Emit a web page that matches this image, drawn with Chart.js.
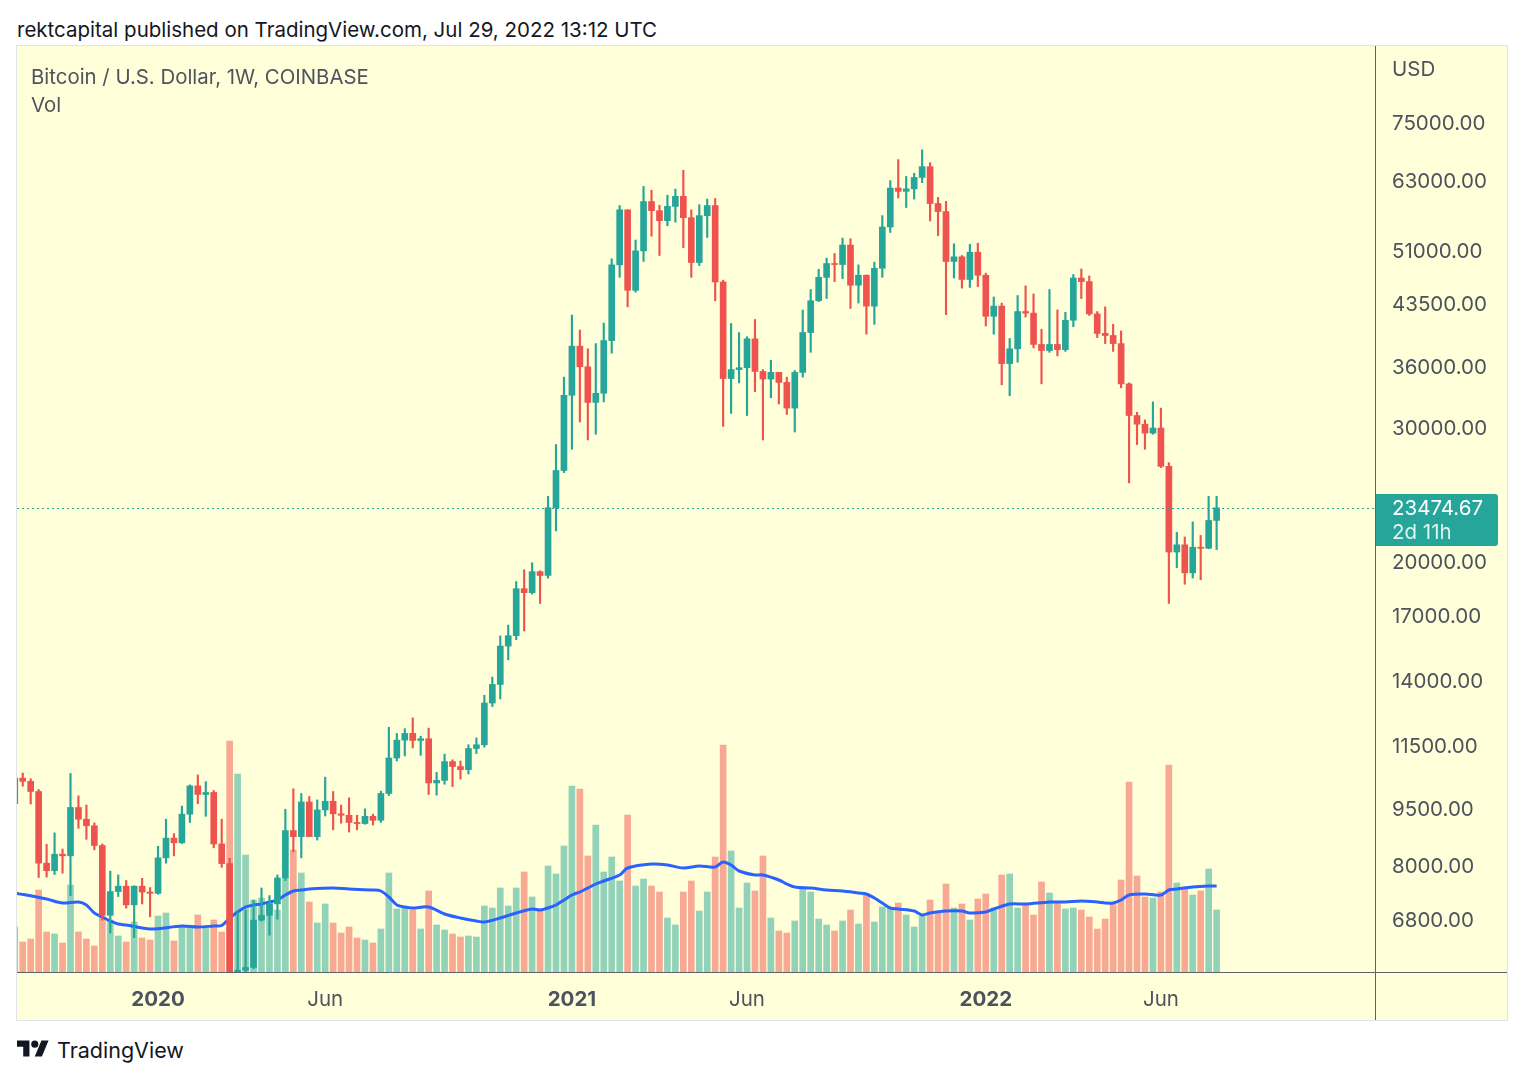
<!DOCTYPE html>
<html>
<head>
<meta charset="utf-8">
<script src="https://cdn.jsdelivr.net/npm/chart.js@4.4.0/dist/chart.umd.min.js"></script>
<style>
body { margin:0; background:#fff; font-family: Inter, "Liberation Sans", sans-serif; }
#page { position:relative; width:1524px; height:1080px; overflow:hidden; }
#title { position:absolute; left:17px; top:18px; font-size:20.5px; line-height:24px; color:#131722; white-space:nowrap; }
#panel { position:absolute; left:16px; top:45px; width:1490px; height:974px; border:1px solid #e0e3eb; background:#ffffd9; }
#panel canvas { position:absolute; left:0; top:0; }
.legend { position:absolute; left:14px; font-size:20.4px; line-height:24px; color:#50535e; white-space:nowrap; }
#logo { position:absolute; left:17px; top:1037px; }
#logotext { position:absolute; left:57px; top:1036px; font-size:21.5px; line-height:28px; color:#131722; }
</style>
</head>
<body>
<div id="page">
  <div id="title">rektcapital published on TradingView.com, Jul 29, 2022 13:12 UTC</div>
  <div id="panel">
    <canvas id="chart" width="1490" height="974"></canvas>
    <div class="legend" style="top:19px">Bitcoin / U.S. Dollar, 1W, COINBASE</div>
    <div class="legend" style="top:47px">Vol</div>
  </div>
  <svg id="logo" width="32" height="25" viewBox="0 0 36 28"><path d="M14 22H7V11H0V4h14v18zM28 22h-8l7.5-18h8L28 22z" fill="#131722"/><circle cx="20" cy="8" r="4" fill="#131722"/></svg>
  <div id="logotext">TradingView</div>
</div>
<script>
// weekly candles, first week = 2019-09-02, last week = 2022-07-25
var open = [9630,10400,10300,9990,8050,7870,8270,8230,9520,9190,
  9010,8490,6880,7390,7510,7100,7510,7380,7350,8180,
  8680,8560,9330,10160,9900,9960,8530,8040,5360,5830,
  5880,6780,6880,7120,7700,8880,8720,9680,8720,9450,
  9700,9340,9300,9100,9070,9270,9160,9930,11050,11660,
  11900,11650,11710,10250,10330,10930,10770,10670,11370,11500,
  13040,13790,15480,15970,18400,18180,19370,19150,23480,26270,
  32950,38200,35900,32250,33150,38850,48800,57600,45200,50900,
  59050,57450,55750,58200,60000,56250,49150,56600,58350,46350,
  34650,35600,35800,39050,35400,34600,35300,34250,31700,35300,
  39800,43800,47000,49000,48850,51800,45900,47300,43100,48300,
  54700,61500,60900,61350,63500,65600,58700,57300,49300,50000,
  46700,50700,47300,41800,43100,36250,37900,42400,42200,38400,
  37700,38400,37800,41300,46900,46400,42100,39700,39450,38500,
  34100,31000,30200,29400,29850,26600,20550,21000,19300,20850,
  20780,22600];
var high = [10950,10560,10380,10050,8520,8820,8400,10550,9860,9590,
  9090,8530,7860,7770,7640,7520,7690,7480,8470,9190,
  8800,9560,10190,10500,10290,10020,9190,8170,6950,6990,
  7200,7470,7300,7770,9470,10070,9930,9840,9740,10430,
  9990,9590,9800,9300,9480,9330,10000,12120,11900,12070,
  12470,11800,12090,10580,11180,10990,10950,11500,11740,13350,
  14100,15960,16490,18800,19480,19900,19420,24300,28400,34800,
  41950,40100,37900,38500,40950,49700,58350,57600,52600,61800,
  61100,58400,60200,61300,64900,57600,58500,59500,59600,46600,
  40900,39800,39300,41400,35600,36600,35300,34800,35500,42600,
  45300,48150,49800,50500,52900,52800,48800,47350,49200,56600,
  62900,67000,63700,64300,69000,66400,59800,59100,52000,50200,
  51900,52100,47600,44300,43500,39100,44500,45800,44700,40200,
  45300,42600,42300,47400,48200,47200,42400,43000,40800,40000,
  34200,31300,30600,32300,31700,26900,21800,21500,22500,21600,
  24300,24300];
var low = [9580,10150,9620,7710,7720,7780,7810,7300,8940,8650,
  8380,6780,6520,7280,7030,6430,7120,6850,7330,8050,
  8230,8540,9100,9630,9270,8430,7950,3850,4450,5700,
  5860,6760,6480,6800,7640,8330,8180,8810,8630,9280,
  8900,9080,8840,8900,9050,9030,9100,9870,10950,11120,
  11390,11140,9900,9880,10210,10140,10370,10530,11200,11420,
  12900,13200,14850,15780,16200,18100,17600,19000,21900,26100,
  28000,30400,28800,29300,32300,37400,47000,43000,44950,49300,
  53200,50200,54900,55500,51400,47000,48700,53000,43800,30000,
  31200,34200,31000,33300,28800,32700,32100,31100,29500,34800,
  37500,43700,44100,46400,46800,42800,43500,39600,40800,47000,
  53800,59700,58000,59500,62500,55700,53300,42000,46900,45500,
  45600,45700,40600,39600,34000,32900,36400,41700,38000,34100,
  37500,37100,37600,40500,44100,41900,39200,38500,37600,33700,
  25300,28400,28000,29300,26500,17600,19600,18650,19000,18900,
  20750,20700];
var close = [10400,10300,9990,8050,7870,8270,8230,9520,9190,9010,
  8490,6880,7390,7510,7100,7510,7380,7350,8180,8680,
  8560,9330,10160,9900,9960,8530,8040,5360,5830,5880,
  6780,6880,7120,7700,8880,8720,9680,8720,9450,9700,
  9340,9300,9100,9070,9270,9160,9930,11050,11660,11900,
  11650,11710,10250,10330,10930,10770,10670,11370,11500,13040,
  13790,15480,15970,18400,18180,19370,19150,23480,26270,32950,
  38200,35900,32250,33150,38850,48800,57600,45200,50900,59050,
  57450,55750,58200,60000,56250,49150,56600,58350,46350,34650,
  35600,35800,39050,35400,34600,35300,34250,31700,35300,39800,
  43800,47000,49000,48850,51800,45900,47300,43100,48300,54700,
  61500,60900,61350,63500,65600,58700,57300,49300,50000,46700,
  50700,47300,41800,43100,36250,37900,42400,42200,38400,37700,
  38400,37800,41300,46900,46400,42100,39700,39450,38500,34100,
  31000,30200,29400,29850,26600,20550,21000,19300,20850,20780,
  22600,23474.67];
// volume, thousand BTC
var volume = [45,30,33,82,40,38,29,87,40,33,
  26,55,52,36,30,50,34,32,56,59,
  31,45,45,57,44,52,40,231,198,117,
  72,74,70,62,95,122,99,70,49,68,
  49,39,45,34,32,29,43,99,63,65,
  62,43,81,47,42,38,35,36,35,66,
  64,84,66,84,100,75,62,106,98,126,
  186,183,116,147,100,115,91,157,86,93,
  86,80,54,47,80,91,61,80,115,227,
  121,64,89,81,116,54,41,39,51,85,
  80,53,47,41,51,62,48,78,50,65,
  64,69,57,45,56,72,59,88,64,68,
  52,73,78,64,97,98,64,68,57,90,
  79,69,63,64,62,55,43,53,69,92,
  190,96,75,74,80,207,89,84,77,81,
  103,62];
// volume moving average
var volMaWeeks = [0,4,6,8,9,10,11,12,13,14,17,21,23,25,26,27,28,29,30,31,
  32,33,34,35,36,37,40,42,45,46,47,48,49,50,52,54,56,58,59,61,
  63,65,66,67,68,69,70,71,72,73,74,76,77,80,82,84,86,88,89,90,
  91,93,94,96,97,98,100,102,104,106,107,108,109,110,111,113,114,115,117,119,
  120,122,123,125,127,130,132,134,136,137,138,139,140,142,144,145,146,148,150,151];
var volMa = [79,73,69,70,67,59,55,51,48,47,43,46,45,46,46.5,54,60,65,67,68,
  70,72,77,81,82,83,84,83,82,81,75,67,65,64,65,58,54,51,50,54,
  59,63,62,64,67,72,77,80,84,88,91,97,104,108,107,104,106,105,110,107,
  101,97,97,92,88,85,84,82,81,79,78,74,69,64,63,61,57,59,61,61,
  59,60,63,68,68,70,70,71,70,69,69,72,77,78,77,82,83,85,86,86];

var timeTicks = [18, 39, 70, 92, 122, 144];
var timeLabels = ['2020', 'Jun', '2021', 'Jun', '2022', 'Jun'];
var priceTicks = [75000, 63000, 51000, 43500, 36000, 30000, 24000, 20000, 17000, 14000, 11500, 9500, 8000, 6800];

var upColor = '#26a69a', downColor = '#ef5350';
var candleColors = [], volColors = [];
for (var i = 0; i < close.length; i++) {
  var up = close[i] >= open[i];
  candleColors.push(up ? upColor : downColor);
  volColors.push(up ? 'rgba(38,166,154,0.5)' : 'rgba(239,83,80,0.5)');
}

var bodies = [], wicks = [], vols = [], ma = [];
for (var i = 0; i < close.length; i++) {
  bodies.push({x: i, y: [open[i], close[i]]});
  wicks.push({x: i, y: [low[i], high[i]]});
  vols.push({x: i, y: volume[i]});
}
for (var i = 0; i < volMaWeeks.length; i++) {
  ma.push({x: volMaWeeks[i], y: volMa[i]});
}

Chart.defaults.font.family = 'Inter';

var extras = {
  id: 'extras',
  afterDraw: function(chart) {
    var ctx = chart.ctx, a = chart.chartArea;
    var last = close[close.length - 1];
    var py = Math.round(chart.scales.y.getPixelForValue(last));
    ctx.save();
    ctx.strokeStyle = '#5d606b';
    ctx.lineWidth = 1;
    ctx.beginPath();
    ctx.moveTo(0, a.bottom + 0.5); ctx.lineTo(chart.width, a.bottom + 0.5);
    ctx.moveTo(a.right + 0.5, 0); ctx.lineTo(a.right + 0.5, chart.height);
    ctx.stroke();

    ctx.strokeStyle = upColor;
    ctx.setLineDash([2, 3]);
    ctx.beginPath();
    ctx.moveTo(a.left, py + 0.5); ctx.lineTo(a.right, py + 0.5);
    ctx.stroke();
    ctx.setLineDash([]);

    ctx.fillStyle = upColor;
    ctx.beginPath();
    ctx.roundRect(a.right + 1, py - 14, 122, 52, [0, 3, 3, 0]);
    ctx.fill();
    ctx.font = '20.5px Inter';
    ctx.textAlign = 'left';
    ctx.textBaseline = 'middle';
    ctx.fillStyle = '#ffffff';
    ctx.fillText(last.toFixed(2), a.right + 17, py + 1);
    ctx.fillStyle = 'rgba(255,255,255,0.85)';
    ctx.fillText('2d 11h', a.right + 17, py + 25);

    ctx.fillStyle = '#4c525e';
    ctx.fillText('USD', a.right + 17, 24);
    ctx.restore();
  }
};

var ctx = document.getElementById('chart');
var chart = new Chart(ctx, {
  type: 'bar',
  data: {
    datasets: [
      {
        label: 'body', data: bodies, yAxisID: 'y',
        backgroundColor: candleColors, barThickness: 6, grouped: false,
        minBarLength: 1, order: 0
      },
      {
        label: 'wick', data: wicks, yAxisID: 'y',
        backgroundColor: candleColors, barThickness: 1.5, grouped: false,
        order: 0.5
      },
      {
        type: 'line', label: 'Vol MA', data: ma, yAxisID: 'v',
        borderColor: '#2962ff', borderWidth: 3, pointRadius: 0,
        tension: 0.3, order: 1
      },
      {
        label: 'Vol', data: vols, yAxisID: 'v',
        backgroundColor: volColors, barThickness: 6, grouped: false,
        order: 2
      }
    ]
  },
  options: {
    responsive: false,
    animation: false,
    layout: { padding: 0 },
    plugins: { legend: { display: false }, tooltip: { enabled: false } },
    scales: {
      x: {
        type: 'linear', min: 0.28, max: 170.9, offset: false, bounds: 'data',
        grid: { display: false, drawTicks: false }, border: { display: false },
        afterBuildTicks: function(s) { s.ticks = timeTicks.map(function(v) { return {value: v}; }); },
        afterFit: function(s) { s.height = 48; s.paddingLeft = 0; s.paddingRight = 0; },
        ticks: {
          autoSkip: false, maxRotation: 0, padding: 16, color: '#4c525e',
          font: function(c) {
            var bold = c.tick && timeLabels[timeTicks.indexOf(c.tick.value)] !== 'Jun';
            return { family: 'Inter', size: 20.5, weight: bold ? 'bold' : 'normal' };
          },
          callback: function(v) { return timeLabels[timeTicks.indexOf(v)]; }
        }
      },
      y: {
        type: 'logarithmic', position: 'right', min: 5800, max: 94346, bounds: 'data',
        grid: { display: false, drawTicks: false }, border: { display: false },
        afterBuildTicks: function(s) { s.ticks = priceTicks.map(function(v) { return {value: v}; }); },
        afterFit: function(s) { s.width = 132; s.paddingTop = 0; s.paddingBottom = 0; },
        ticks: {
          padding: 17, labelOffset: 2, color: '#4c525e', font: { family: 'Inter', size: 20.5 },
          callback: function(v) { return Number(v).toFixed(2); }
        }
      },
      v: { type: 'linear', display: false, min: 0, max: 926 }
    }
  },
  plugins: [extras]
});
</script>
</body>
</html>
